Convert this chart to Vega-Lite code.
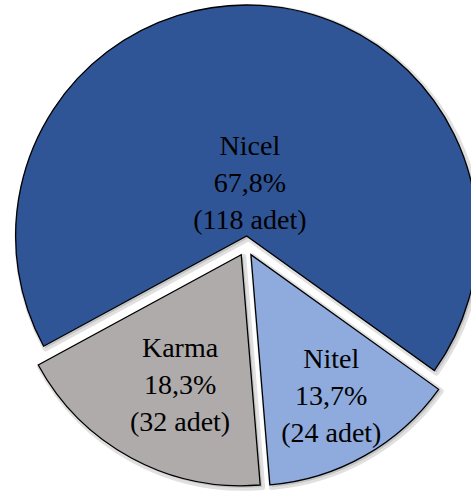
{
  "$schema": "https://vega.github.io/schema/vega-lite/v6.json",
  "width": 450,
  "height": 492,
  "autosize": {"type": "none"},
  "padding": {"left": 21, "top": 0, "right": 0, "bottom": 1},
  "background": "white",
  "config": {"view": {"stroke": null}},
  "params": [
    {"name": "patlama", "value": 10},
    {"name": "golge", "value": 2}
  ],
  "data": {
    "values": [
      {"kategori": "Nicel", "adet": 118, "yuzde": 67.8, "sira": 1},
      {"kategori": "Nitel", "adet": 24, "yuzde": 13.7, "sira": 2},
      {"kategori": "Karma", "adet": 32, "yuzde": 18.3, "sira": 3}
    ]
  },
  "transform": [
    {
      "calculate": "[datum.kategori, replace(format(datum.yuzde, '.1f'), '.', ',') + '%', '(' + datum.adet + ' adet)']",
      "as": "etiket"
    }
  ],
  "encoding": {
    "theta": {
      "field": "adet",
      "type": "quantitative",
      "stack": true,
      "scale": {"range": [-2.0682, 4.2150]}
    },
    "order": {"field": "sira", "type": "quantitative"},
    "x": {"value": {"expr": "width / 2 + patlama * sin(scale('theta', (datum.adet_start + datum.adet_end) / 2))"}},
    "y": {"value": {"expr": "height / 2 - patlama * cos(scale('theta', (datum.adet_start + datum.adet_end) / 2))"}}
  },
  "layer": [
    {
      "mark": {"type": "arc", "outerRadius": 231, "fill": "#bdbdbd", "fillOpacity": 0.5, "stroke": "#000000", "strokeOpacity": 0.12, "strokeWidth": 6, "strokeJoin": "round"},
      "encoding": {
        "x": {"value": {"expr": "width / 2 + golge + patlama * sin(scale('theta', (datum.adet_start + datum.adet_end) / 2))"}},
        "y": {"value": {"expr": "height / 2 + golge - patlama * cos(scale('theta', (datum.adet_start + datum.adet_end) / 2))"}}
      }
    },
    {
      "mark": {"type": "arc", "outerRadius": 231, "stroke": "#000000", "strokeWidth": 1.3},
      "encoding": {
        "color": {
          "field": "kategori",
          "type": "nominal",
          "scale": {"domain": ["Nicel", "Nitel", "Karma"], "range": ["#2F5597", "#8FAADC", "#AFABAB"]},
          "legend": null
        }
      }
    },
    {
      "mark": {"type": "text", "radius": 52, "dy": -37, "font": "Liberation Serif", "fontSize": 28, "lineHeight": 37, "color": "#000000", "align": "center", "baseline": "middle"},
      "encoding": {
        "text": {"condition": {"test": "datum.kategori === 'Nicel'", "field": "etiket"}, "value": ""}
      }
    },
    {
      "mark": {"type": "text", "radius": 163, "dy": -37, "font": "Liberation Serif", "fontSize": 28, "lineHeight": 37, "color": "#000000", "align": "center", "baseline": "middle"},
      "encoding": {
        "text": {"condition": {"test": "datum.kategori === 'Nitel'", "field": "etiket"}, "value": ""}
      }
    },
    {
      "mark": {"type": "text", "radius": 145, "dy": -37, "thetaOffset": -0.06, "font": "Liberation Serif", "fontSize": 28, "lineHeight": 37, "color": "#000000", "align": "center", "baseline": "middle"},
      "encoding": {
        "text": {"condition": {"test": "datum.kategori === 'Karma'", "field": "etiket"}, "value": ""}
      }
    }
  ]
}
